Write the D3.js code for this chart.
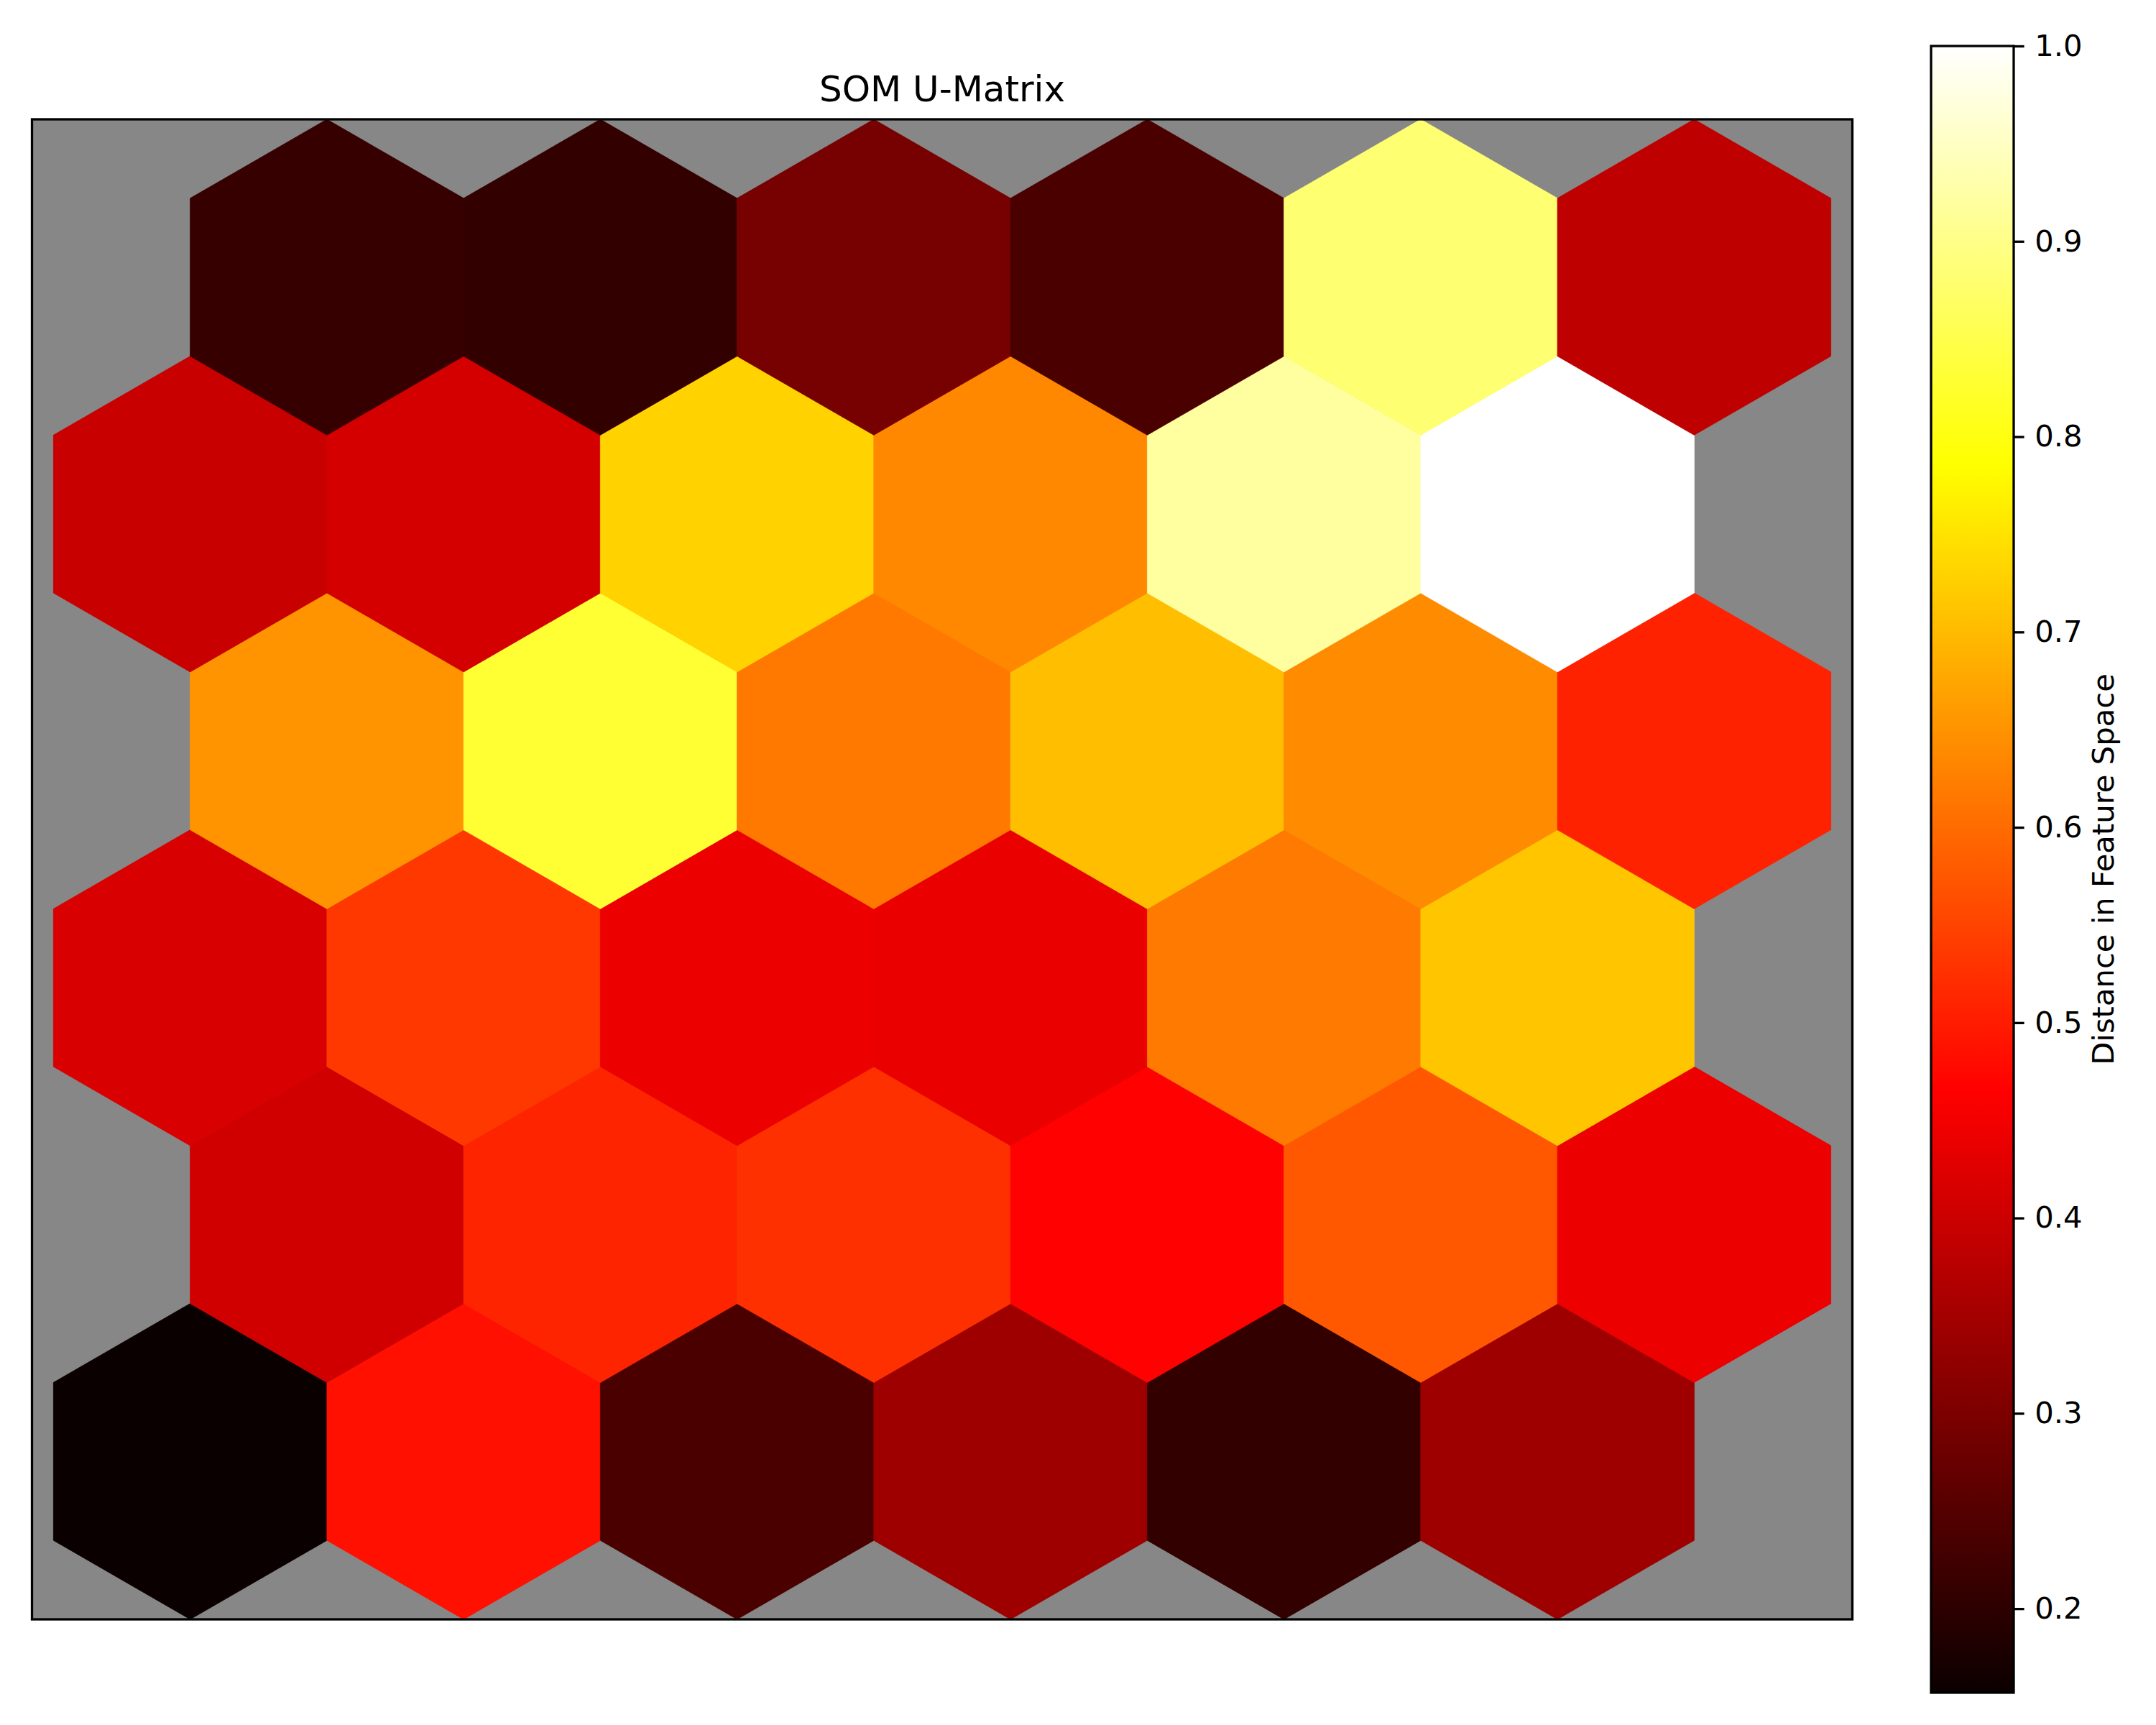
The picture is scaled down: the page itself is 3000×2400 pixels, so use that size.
<!DOCTYPE html>
<html>
<head>
<meta charset="utf-8">
<script src="https://cdn.jsdelivr.net/npm/d3@7"></script>
<style>
  html, body { margin: 0; padding: 0; background: #ffffff; }
  svg { display: block; font-family: "DejaVu Sans", sans-serif; }
</style>
</head>
<body>
<svg id="chart" width="3000" height="2400"></svg>
<script>
// U-matrix values, one array per SOM row (row 0 = bottom), 6 columns each
const row0 = [0.157, 0.485, 0.238, 0.343, 0.208, 0.343];
const row1 = [0.406, 0.510, 0.525, 0.466, 0.576, 0.441];
const row2 = [0.416, 0.535, 0.441, 0.439, 0.618, 0.714];
const row3 = [0.651, 0.829, 0.616, 0.705, 0.641, 0.508];
const row4 = [0.395, 0.411, 0.729, 0.636, 0.919, 1.000];
const row5 = [0.212, 0.208, 0.293, 0.238, 0.882, 0.383];
const uMatrix = [row0, row1, row2, row3, row4, row5];

const colorbarTicks = [0.2, 0.3, 0.4, 0.5, 0.6, 0.7, 0.8, 0.9, 1.0];
const titleText = "SOM U-Matrix";
const colorbarLabel = "Distance in Feature Space";

// matplotlib "hot" colormap (piecewise linear)
function hot(t) {
  t = Math.max(0, Math.min(1, t));
  const r = t < 0.365079 ? 0.0416 + (1 - 0.0416) * t / 0.365079 : 1;
  const g = t < 0.365079 ? 0 : (t < 0.746032 ? (t - 0.365079) / (0.746032 - 0.365079) : 1);
  const b = t < 0.746032 ? 0 : (t - 0.746032) / (1 - 0.746032);
  return d3.rgb(Math.round(r * 255), Math.round(g * 255), Math.round(b * 255)).formatHex();
}

const svg = d3.select("#chart");
const ax = { left: 44.5, right: 2577.5, top: 166, bottom: 2253 };
const cb = { left: 2687, right: 2802, top: 64, bottom: 2355 };

const allVals = uMatrix.flat();
const vmin = d3.min(allVals), vmax = d3.max(allVals);
const norm = d3.scaleLinear().domain([vmin, vmax]).range([0, 1]);

// hex cell layout (pointy-top, touching)
const R = 1 / Math.sqrt(3);
const cells = [];
uMatrix.forEach((row, i) => row.forEach((v, j) => {
  cells.push({ i, j, v, cx: j + 0.5 * (i % 2), cy: i * Math.sqrt(3) / 2 });
}));

// data limits with equal aspect (adjust x limits)
const yMin = d3.min(cells, c => c.cy) - R, yMax = d3.max(cells, c => c.cy) + R;
const xDataMin = d3.min(cells, c => c.cx) - 0.5, xDataMax = d3.max(cells, c => c.cx) + 0.5;
const pxPerUnit = (ax.bottom - ax.top) / (yMax - yMin);
const xSpan = (ax.right - ax.left) / pxPerUnit;
const xMid = (xDataMin + xDataMax) / 2;
const x = d3.scaleLinear().domain([xMid - xSpan / 2, xMid + xSpan / 2]).range([ax.left, ax.right]);
const y = d3.scaleLinear().domain([yMin, yMax]).range([ax.bottom, ax.top]);

// clip
svg.append("defs").append("clipPath").attr("id", "axclip")
  .append("rect").attr("x", ax.left).attr("y", ax.top)
  .attr("width", ax.right - ax.left).attr("height", ax.bottom - ax.top);

// background
svg.append("rect").attr("x", ax.left).attr("y", ax.top)
  .attr("width", ax.right - ax.left).attr("height", ax.bottom - ax.top)
  .attr("fill", "#878787");

function hexPoints(c) {
  const pts = [];
  for (let k = 0; k < 6; k++) {
    const a = Math.PI / 2 + k * Math.PI / 3;
    pts.push([x(c.cx + R * Math.cos(a)), y(c.cy + R * Math.sin(a))]);
  }
  return pts.map(p => p.join(",")).join(" ");
}

svg.append("g").attr("clip-path", "url(#axclip)")
  .selectAll("polygon").data(cells).join("polygon")
  .attr("points", hexPoints)
  .attr("fill", d => hot(norm(d.v)))
  .attr("stroke", d => hot(norm(d.v)))
  .attr("stroke-width", 0.8);

// axes frame
svg.append("rect").attr("x", ax.left).attr("y", ax.top)
  .attr("width", ax.right - ax.left).attr("height", ax.bottom - ax.top)
  .attr("fill", "none").attr("stroke", "#000").attr("stroke-width", 3.3);

// title
svg.append("text").attr("x", (ax.left + ax.right) / 2).attr("y", 141)
  .attr("text-anchor", "middle").attr("font-size", 50).attr("fill", "#000")
  .text(titleText);

// colorbar gradient
const grad = svg.select("defs").append("linearGradient").attr("id", "hotgrad")
  .attr("x1", 0).attr("y1", 1).attr("x2", 0).attr("y2", 0);
[0, 0.365079, 0.746032, 1].forEach(s => {
  grad.append("stop").attr("offset", s).attr("stop-color", hot(s));
});
svg.append("rect").attr("x", cb.left).attr("y", cb.top)
  .attr("width", cb.right - cb.left).attr("height", cb.bottom - cb.top)
  .attr("fill", "url(#hotgrad)");
svg.append("rect").attr("x", cb.left).attr("y", cb.top)
  .attr("width", cb.right - cb.left).attr("height", cb.bottom - cb.top)
  .attr("fill", "none").attr("stroke", "#000").attr("stroke-width", 3.3);

const cbScale = d3.scaleLinear().domain([vmin, vmax]).range([cb.bottom, cb.top]);
const cbAxis = d3.axisRight(cbScale).tickValues(colorbarTicks)
  .tickFormat(d3.format(".1f")).tickSize(14.6).tickPadding(14.6);
const cbG = svg.append("g").attr("transform", `translate(${cb.right},0)`).call(cbAxis);
cbG.select(".domain").remove();
cbG.selectAll(".tick line").attr("stroke", "#000").attr("stroke-width", 3.3);
cbG.selectAll(".tick text").attr("font-size", 41.7).attr("fill", "#000")
  .attr("font-family", "DejaVu Sans, sans-serif");

// colorbar label
svg.append("text")
  .attr("transform", `translate(2941,${(cb.top + cb.bottom) / 2}) rotate(-90)`)
  .attr("text-anchor", "middle").attr("font-size", 41.7).attr("fill", "#000")
  .text(colorbarLabel);
</script>
</body>
</html>
